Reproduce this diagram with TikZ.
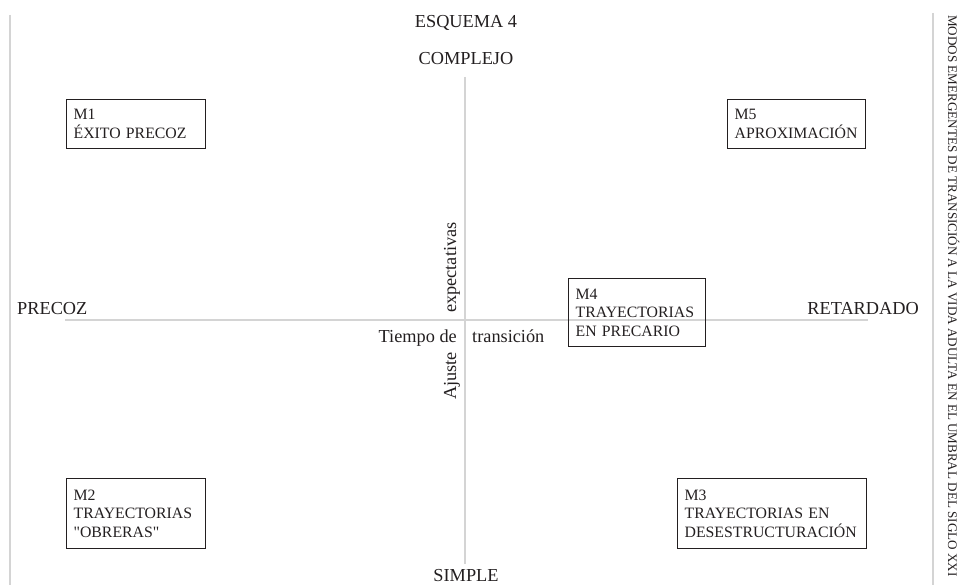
\documentclass[tikz,border=0pt]{standalone}
\usepackage{fontspec}
\setmainfont{Liberation Serif}
\usetikzlibrary{calc}

\definecolor{tinta}{HTML}{231F20}
\definecolor{eje}{HTML}{D4D4D4}

\begin{document}
\begin{tikzpicture}[x=1pt, y=-1pt,
	caja/.style={draw=tinta, line width=1.2pt, anchor=north west, align=left, inner xsep=7pt, inner ysep=0pt, text=tinta, font=\fontsize{15.8}{18.5}\selectfont},
	rotulo/.style={text=tinta, inner sep=0pt, font=\fontsize{18.3}{22}\selectfont},
	linea/.style={draw=eje, line width=1.5pt}]
	\useasboundingbox (0,0) rectangle (960,585);
	% ejes y margenes
	\coordinate (N) at (465,77);
	\coordinate (S) at (465,564);
	\coordinate (W) at (65,320);
	\coordinate (E) at (868,320);
	\coordinate (L1) at (10,15);
	\coordinate (L2) at (10,585);
	\coordinate (R1) at (933,13);
	\coordinate (R2) at (933,585);
	\draw [linea] (N) -- (S);
	\draw [linea] (W) -- (E);
	\draw [linea] (L1) -- (L2);
	\draw [linea] (R1) -- (R2);
	% rotulos
	\node [rotulo, anchor=base] (titulo) at (466,28) {ESQUEMA 4};
	\node [rotulo, anchor=base] (complejo) at (466,65) {COMPLEJO};
	\node [rotulo, anchor=base] (simple) at (466,581) {SIMPLE};
	\node [rotulo, anchor=base west] (precoz) at (17,314) {PRECOZ};
	\node [rotulo, anchor=base east] (retardado) at (919,314) {RETARDADO};
	\node [rotulo, anchor=base east] (tiempo) at (457,342) {Tiempo de};
	\node [rotulo, anchor=base west] (transicion) at (472,342) {transición};
	\node [rotulo, rotate=90, anchor=base west] (expectativas) at (456,313) {expectativas};
	\node [rotulo, rotate=90, anchor=base west] (ajuste) at (456,400) {Ajuste};
	\node [rotulo, rotate=-90, anchor=base west, font=\fontsize{13.1}{16}\selectfont] (modos) at (948,15) {MODOS EMERGENTES DE TRANSICIÓN A LA VIDA ADULTA EN EL UMBRAL DEL SIGLO XXI};
	% modos
	\node [caja, text width=125pt, minimum height=49pt] (m1) at (66,99) {M1\\ÉXITO PRECOZ};
	\node [caja, text width=124pt, minimum height=49pt] (m5) at (727,99) {M5\\APROXIMACIÓN};
	\node [caja, text width=123pt, minimum height=68pt] (m4) at (568,278) {M4\\TRAYECTORIAS\\EN PRECARIO};
	\node [caja, text width=125pt, minimum height=70pt] (m2) at (66,478) {M2\\TRAYECTORIAS\\\textquotedbl OBRERAS\textquotedbl};
	\node [caja, text width=175pt, minimum height=70pt] (m3) at (677,478) {M3\\TRAYECTORIAS EN\\DESESTRUCTURACIÓN};
\end{tikzpicture}
\end{document}
